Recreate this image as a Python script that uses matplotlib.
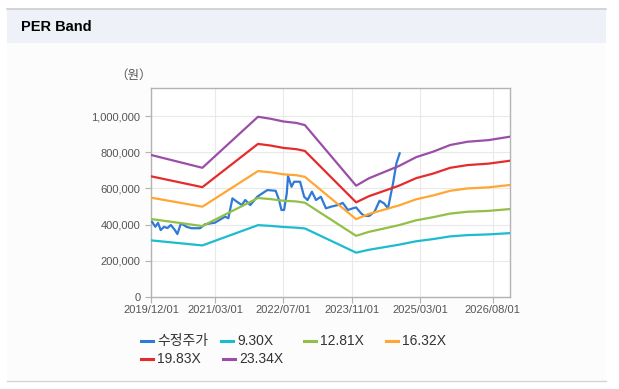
import pandas as pd
import matplotlib
matplotlib.use("Agg")
import matplotlib.pyplot as plt
import matplotlib.dates as mdates
from matplotlib.patches import Rectangle
from matplotlib.lines import Line2D
from matplotlib.ticker import FuncFormatter, MultipleLocator

plt.rcParams['font.family'] = ['Liberation Sans', 'Noto Sans CJK KR', 'DejaVu Sans']

# 수정주가 (원)
price_dates = [
    "2019-12-08", "2020-01-01", "2020-01-20", "2020-02-08", "2020-03-03", "2020-03-27",
    "2020-04-20", "2020-05-19", "2020-06-06", "2020-07-01", "2020-08-10", "2020-09-15",
    "2020-11-14", "2020-12-20", "2021-03-01", "2021-05-12", "2021-06-04", "2021-07-03",
    "2021-08-03", "2021-09-08", "2021-10-02", "2021-11-07", "2021-12-27", "2022-02-01",
    "2022-03-09", "2022-05-07", "2022-05-31", "2022-06-17", "2022-07-06", "2022-07-25",
    "2022-08-03", "2022-08-28", "2022-09-15", "2022-10-28", "2022-11-26", "2022-12-20",
    "2023-01-20", "2023-02-18", "2023-03-25", "2023-04-30", "2023-06-05", "2023-07-23",
    "2023-08-28", "2023-10-03", "2023-11-07", "2023-12-01", "2024-01-06", "2024-01-29",
    "2024-03-03", "2024-04-10", "2024-05-16", "2024-06-16", "2024-07-15", "2024-08-20",
    "2024-09-13", "2024-10-06",
]
price = [
    416000, 388000, 410000, 370000, 388000, 381000,
    398000, 370000, 348000, 407000, 388000, 380000,
    380000, 402000, 411000, 444000, 435000, 545000,
    527000, 508000, 536000, 508000, 554000, 573000,
    591000, 587000, 536000, 481000, 481000, 573000,
    669000, 609000, 637000, 637000, 554000, 536000,
    582000, 536000, 554000, 490000, 499000, 508000,
    520000, 481000, 490000, 495000, 462000, 448000,
    448000, 471000, 532000, 518000, 490000, 628000,
    739000, 794000,
]

# PER 밴드 (원)
band_dates = [
    "2019-12-01", "2020-12-01", "2022-01-01", "2022-04-01", "2022-07-01", "2022-10-01",
    "2022-12-01", "2023-12-01", "2024-03-01", "2024-10-01", "2025-02-01", "2025-06-01",
    "2025-10-01", "2026-02-01", "2026-07-01", "2026-12-01",
]
band_930 = [313000, 285000, 397000, 393000, 387000, 383000, 379000, 245000,
            261000, 289000, 308000, 320000, 335000, 342000, 346000, 353000]
band_1281 = [431000, 392000, 547000, 541000, 532000, 528000, 521000, 338000,
             360000, 397000, 424000, 441000, 461000, 471000, 476000, 486000]
band_1632 = [549000, 499000, 696000, 689000, 678000, 673000, 664000, 430000,
             459000, 506000, 540000, 561000, 587000, 600000, 606000, 619000]
band_1983 = [667000, 607000, 846000, 837000, 824000, 817000, 807000, 523000,
             557000, 615000, 657000, 682000, 714000, 729000, 737000, 753000]
band_2334 = [785000, 714000, 996000, 985000, 970000, 962000, 950000, 615000,
             656000, 724000, 773000, 803000, 840000, 858000, 867000, 886000]

band_labels = ["9.30X", "12.81X", "16.32X", "19.83X", "23.34X"]
band_values = [band_930, band_1281, band_1632, band_1983, band_2334]
band_colors = ["#1cbccf", "#92c046", "#ffa633", "#e52b2b", "#9b4ea8"]
price_color = "#2f7ad6"

x_ticks = ["2019-12-01", "2021-03-01", "2022-07-01", "2023-11-01", "2025-03-01", "2026-08-01"]

W, H = 619, 389


def fx(x):
    return x / W


def fy(y):
    return 1 - y / H


fig = plt.figure(figsize=(W / 100, H / 100), dpi=100)
fig.patch.set_facecolor("white")

# 패널 배경 / 헤더
fig.add_artist(Rectangle((fx(7), fy(381)), fx(606) - fx(7), fy(43) - fy(381),
                         transform=fig.transFigure, facecolor="#fcfcfc", edgecolor="none", zorder=0))
fig.add_artist(Rectangle((fx(7), fy(43)), fx(606) - fx(7), fy(8) - fy(43),
                         transform=fig.transFigure, facecolor="#eef2f8", edgecolor="none", zorder=0))
fig.add_artist(Line2D([fx(7), fx(606)], [fy(8.5), fy(8.5)], transform=fig.transFigure,
                      color="#cfcfcf", lw=1.2))
fig.add_artist(Line2D([fx(7), fx(606)], [fy(381), fy(381)], transform=fig.transFigure,
                      color="#d4d4d4", lw=1.0))
fig.text(fx(21), fy(27), "PER Band", fontsize=10.5, fontweight="bold", color="black",
         ha="left", va="center")

ax = fig.add_axes([fx(151), fy(297), fx(510) - fx(151), fy(88) - fy(297)])
ax.set_facecolor("white")

pd_dates = pd.to_datetime(price_dates)
bd_dates = pd.to_datetime(band_dates)

ax.plot(pd_dates, price, color=price_color, lw=1.6, zorder=3)
for vals, col in zip(band_values, band_colors):
    ax.plot(bd_dates, vals, color=col, lw=1.6, zorder=4)

ax.set_xlim(pd.Timestamp("2019-12-01"), pd.Timestamp("2026-12-01"))
ax.set_ylim(0, 1155000)
ax.yaxis.set_major_locator(MultipleLocator(200000))
ax.yaxis.set_major_formatter(FuncFormatter(lambda v, p: f"{int(v):,}"))
ax.set_xticks(pd.to_datetime(x_ticks))
ax.xaxis.set_major_formatter(mdates.DateFormatter("%Y/%m/%d"))

ax.grid(True, color="#e9e9e9", lw=0.8, zorder=0)
ax.set_axisbelow(True)
for s in ax.spines.values():
    s.set_color("#b3b3b3")
    s.set_linewidth(1.0)
ax.tick_params(axis="both", length=4, color="#b3b3b3", labelcolor="#555555", labelsize=8)
ax.tick_params(axis="x", pad=2)

fig.text(fx(134), fy(75), "（원）", fontsize=9, color="#555555", ha="center", va="center",
         family=['Noto Sans CJK KR', 'DejaVu Sans'])

# 범례
legend_items = [
    ("수정주가", price_color, 141, 341),
    ("9.30X", band_colors[0], 221, 341),
    ("12.81X", band_colors[1], 304, 341),
    ("16.32X", band_colors[2], 386, 341),
    ("19.83X", band_colors[3], 141, 359),
    ("23.34X", band_colors[4], 223, 359),
]
for label, col, hx, hy in legend_items:
    fig.add_artist(Line2D([fx(hx), fx(hx + 12)], [fy(hy), fy(hy)], transform=fig.transFigure,
                          color=col, lw=2.2))
    fig.text(fx(hx + 16), fy(hy), label, fontsize=10, color="#333333", ha="left", va="center")

fig.savefig("out.png", dpi=100)
